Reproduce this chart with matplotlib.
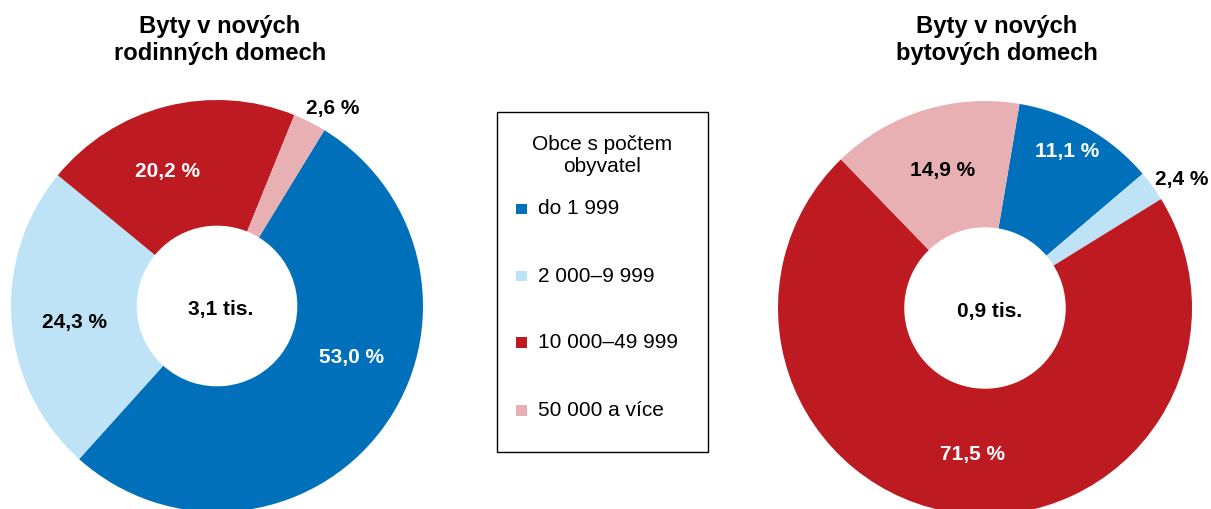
import matplotlib
matplotlib.use("Agg")
import matplotlib.pyplot as plt
from matplotlib.patches import Rectangle

plt.rcParams['font.family'] = ['Liberation Sans', 'DejaVu Sans']

categories = ["do 1 999", "2 000–9 999", "10 000–49 999", "50 000 a více"]
colors = ["#0070BA", "#BEE3F6", "#BE1A22", "#E8B0B3"]

left_title = "Byty v nových\nrodinných domech"
left_values = [53.0, 24.3, 20.2, 2.6]
left_center_text = "3,1 tis."

right_title = "Byty v nových\nbytových domech"
right_values = [11.1, 2.4, 71.5, 14.9]
right_center_text = "0,9 tis."

legend_title = "Obce s počtem\nobyvatel"

W, H = 1211, 509
fig = plt.figure(figsize=(W / 100, H / 100), dpi=100)


def fmt(v):
    return f"{v:.1f}".replace(".", ",") + " %"


def donut(cx, cy, R, values, startangle, label_pos, label_colors, center_text, title, title_x):
    ax = fig.add_axes([(cx - R) / W, (H - cy - R) / H, 2 * R / W, 2 * R / H])
    ax.pie(values, colors=colors, startangle=startangle, counterclock=False,
           radius=1.0, wedgeprops=dict(width=0.61, linewidth=0))
    ax.set_xlim(-1, 1)
    ax.set_ylim(-1, 1)
    ax.set_aspect('equal')
    ax.axis('off')
    for v, (x, y), c in zip(values, label_pos, label_colors):
        ax.text(x, y, fmt(v), ha='center', va='center', fontsize=15,
                fontweight='bold', color=c)
    ax.text(0.02, -0.015, center_text, ha='center', va='center', fontsize=15,
            fontweight='bold', color='black')
    fig.text(title_x / W, 1 - 40 / H, title, ha='center', va='center',
             fontsize=17.1, fontweight='bold', linespacing=1.22)


donut(217, 306, 206, left_values, 58.6,
      [(0.655, -0.252), (-0.694, -0.078), (-0.238, 0.655), (0.563, 0.961)],
      ['white', 'black', 'white', 'black'],
      left_center_text, left_title, 220)

donut(985, 308, 207, right_values, 80.4,
      [(0.396, 0.758), (0.952, 0.623), (-0.058, -0.710), (-0.203, 0.662)],
      ['white', 'black', 'white', 'black'],
      right_center_text, right_title, 997)

# Legend box
fig.add_artist(Rectangle((497 / W, 1 - 452 / H), (708 - 497) / W, (452 - 112) / H,
                         transform=fig.transFigure, fill=False, edgecolor='black',
                         linewidth=1.0))
fig.text(602.5 / W, 1 - 155 / H, legend_title, ha='center', va='center',
         fontsize=15, linespacing=1.2)
entry_y = [209, 276, 342.5, 410.5]
for cat, col, yy in zip(categories, colors, entry_y):
    s = 10.5
    fig.add_artist(Rectangle(((521.5 - s / 2) / W, 1 - (yy + s / 2) / H), s / W, s / H,
                             transform=fig.transFigure, facecolor=col, edgecolor='none'))
    fig.text(538 / W, 1 - yy / H, cat, ha='left', va='center', fontsize=15)

fig.savefig("out.png", dpi=100)
